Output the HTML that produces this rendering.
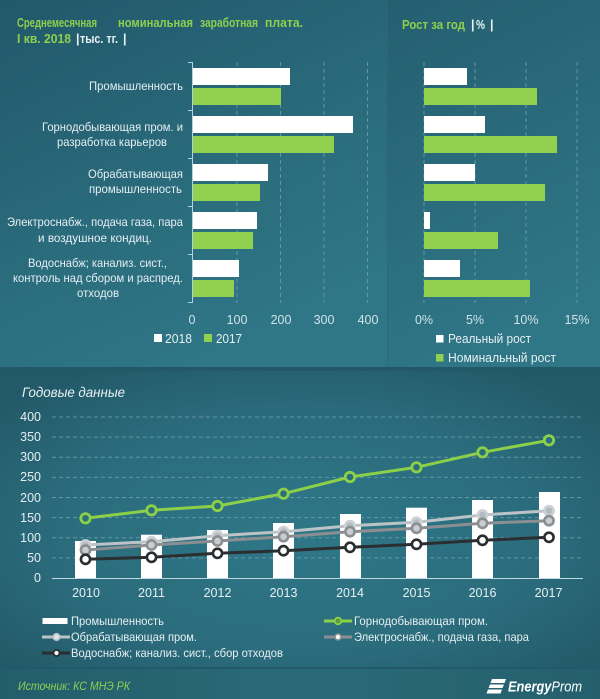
<!DOCTYPE html>
<html>
<head>
<meta charset="utf-8">
<style>
html,body{margin:0;padding:0;background:#1f5464;}
svg{display:block;}
text{font-family:"Liberation Sans","DejaVu Sans",sans-serif;}
</style>
</head>
<body>
<svg width="600" height="699" viewBox="0 0 600 699" xmlns="http://www.w3.org/2000/svg">
<defs>
<linearGradient id="gTL" x1="0" y1="0" x2="0.5" y2="1">
<stop offset="0" stop-color="#21586a"/>
<stop offset="0.6" stop-color="#2a6c7c"/>
<stop offset="1" stop-color="#2f7686"/>
</linearGradient>
<linearGradient id="gTR" x1="0" y1="0" x2="0.3" y2="1">
<stop offset="0" stop-color="#245f70"/>
<stop offset="1" stop-color="#2f7686"/>
</linearGradient>
<radialGradient id="gB" cx="0.5" cy="0.55" r="0.65">
<stop offset="0" stop-color="#2f7787"/>
<stop offset="0.6" stop-color="#2b6d7d"/>
<stop offset="1" stop-color="#235a69"/>
</radialGradient>
<linearGradient id="gF" x1="0" y1="0" x2="1" y2="0">
<stop offset="0" stop-color="#235d6b"/>
<stop offset="0.5" stop-color="#2a6a78"/>
<stop offset="1" stop-color="#255f6d"/>
</linearGradient>
</defs>

<!-- backgrounds -->
<rect x="0" y="0" width="600" height="699" fill="#1f5464"/>
<rect x="0" y="0" width="388" height="367" fill="url(#gTL)"/>
<rect x="388" y="0" width="212" height="367" fill="url(#gTR)"/>
<rect x="387" y="0" width="1" height="367" fill="#2a6575" opacity="0.7"/>
<rect x="0" y="367" width="600" height="4" fill="#225868"/>
<rect x="0" y="371" width="600" height="297" fill="url(#gB)"/>
<rect x="0" y="668" width="600" height="31" fill="url(#gF)"/>
<rect x="0" y="667" width="600" height="2" fill="#21586a"/>

<!-- ===== Top-left title ===== -->
<g font-size="12.5" font-weight="bold" fill="#8ecf50">
<text x="17" y="27" textLength="80" lengthAdjust="spacingAndGlyphs">Среднемесячная</text>
<text x="118" y="27" textLength="75" lengthAdjust="spacingAndGlyphs">номинальная</text>
<text x="200" y="27" textLength="58" lengthAdjust="spacingAndGlyphs">заработная</text>
<text x="265" y="27" textLength="38" lengthAdjust="spacingAndGlyphs">плата.</text>
<text x="17" y="43" textLength="54" lengthAdjust="spacingAndGlyphs">I кв. 2018</text>
</g>
<g font-size="12.5" font-weight="bold" fill="#e8f2f5">
<text x="76" y="43">|</text>
<text x="80" y="43" textLength="38" lengthAdjust="spacingAndGlyphs">тыс. тг.</text>
<text x="123" y="43">|</text>
</g>

<!-- ===== Top-right title ===== -->
<text x="402" y="29" font-size="12.5" font-weight="bold" fill="#8ecf50" textLength="63" lengthAdjust="spacingAndGlyphs">Рост за год</text>
<g font-size="12.5" font-weight="bold" fill="#e8f2f5">
<text x="471" y="29">|</text>
<text x="476" y="29" textLength="9" lengthAdjust="spacingAndGlyphs">%</text>
<text x="490" y="29">|</text>
</g>

<!-- ===== Left bar chart ===== -->
<g stroke="#6fa0b0" stroke-width="1" stroke-dasharray="4,3" opacity="0.8">
<line x1="237" y1="62" x2="237" y2="303"/>
<line x1="280.5" y1="62" x2="280.5" y2="303"/>
<line x1="324" y1="62" x2="324" y2="303"/>
<line x1="367.5" y1="62" x2="367.5" y2="303"/>
</g>
<g fill="#ffffff">
<rect x="192" y="68" width="98" height="17"/>
<rect x="192" y="116" width="161" height="17"/>
<rect x="192" y="164" width="76" height="17"/>
<rect x="192" y="212" width="65" height="17"/>
<rect x="192" y="260" width="47" height="17"/>
</g>
<g fill="#92d050">
<rect x="192" y="88" width="89" height="17"/>
<rect x="192" y="136" width="142" height="17"/>
<rect x="192" y="184" width="68" height="17"/>
<rect x="192" y="232" width="61" height="17"/>
<rect x="192" y="280" width="42" height="17"/>
</g>
<g stroke="#b4d2dc" stroke-width="1">
<line x1="192.5" y1="62" x2="192.5" y2="303"/>
<line x1="188" y1="62.5" x2="192" y2="62.5"/>
<line x1="188" y1="110.5" x2="192" y2="110.5"/>
<line x1="188" y1="158.5" x2="192" y2="158.5"/>
<line x1="188" y1="206.5" x2="192" y2="206.5"/>
<line x1="188" y1="254.5" x2="192" y2="254.5"/>
<line x1="188" y1="302.5" x2="192" y2="302.5"/>
</g>
<g font-size="12" fill="#e6eff2" text-anchor="middle">
<text x="136" y="90" textLength="94" lengthAdjust="spacingAndGlyphs">Промышленность</text>
<text x="112.5" y="131" textLength="141" lengthAdjust="spacingAndGlyphs">Горнодобывающая пром. и</text>
<text x="112" y="146" textLength="110" lengthAdjust="spacingAndGlyphs">разработка карьеров</text>
<text x="135.5" y="178" textLength="95" lengthAdjust="spacingAndGlyphs">Обрабатывающая</text>
<text x="135.5" y="193" textLength="93" lengthAdjust="spacingAndGlyphs">промышленность</text>
<text x="95" y="226" textLength="176" lengthAdjust="spacingAndGlyphs">Электроснабж., подача газа, пара</text>
<text x="95" y="242" textLength="114" lengthAdjust="spacingAndGlyphs">и воздушное  кондиц.</text>
<text x="97.5" y="267" textLength="139" lengthAdjust="spacingAndGlyphs">Водоснабж; канализ. сист.,</text>
<text x="98" y="282" textLength="170" lengthAdjust="spacingAndGlyphs">контроль над сбором и распред.</text>
<text x="98" y="297" textLength="42" lengthAdjust="spacingAndGlyphs">отходов</text>
</g>
<g font-size="12.5" fill="#cfe2e8" text-anchor="middle">
<text x="192" y="324">0</text>
<text x="237" y="324">100</text>
<text x="281" y="324">200</text>
<text x="324" y="324">300</text>
<text x="368" y="324">400</text>
</g>
<rect x="154" y="334" width="8" height="8" fill="#ffffff"/>
<text x="165" y="343" font-size="13" fill="#e6eff2" textLength="27" lengthAdjust="spacingAndGlyphs">2018</text>
<rect x="204" y="334" width="8" height="8" fill="#92d050"/>
<text x="216" y="343" font-size="13" fill="#e6eff2" textLength="26" lengthAdjust="spacingAndGlyphs">2017</text>

<!-- ===== Right bar chart ===== -->
<g stroke="#6fa0b0" stroke-width="1" stroke-dasharray="4,3" opacity="0.8">
<line x1="424" y1="62" x2="424" y2="303"/>
<line x1="475" y1="62" x2="475" y2="303"/>
<line x1="526" y1="62" x2="526" y2="303"/>
<line x1="577" y1="62" x2="577" y2="303"/>
</g>
<g fill="#ffffff">
<rect x="424" y="68" width="43" height="17"/>
<rect x="424" y="116" width="61" height="17"/>
<rect x="424" y="164" width="51" height="17"/>
<rect x="424" y="212" width="6" height="17"/>
<rect x="424" y="260" width="36" height="17"/>
</g>
<g fill="#92d050">
<rect x="424" y="88" width="113" height="17"/>
<rect x="424" y="136" width="133" height="17"/>
<rect x="424" y="184" width="121" height="17"/>
<rect x="424" y="232" width="74" height="17"/>
<rect x="424" y="280" width="106" height="17"/>
</g>
<g font-size="12.5" fill="#cfe2e8" text-anchor="middle">
<text x="424" y="324">0%</text>
<text x="475" y="324">5%</text>
<text x="526" y="324">10%</text>
<text x="577" y="324">15%</text>
</g>
<rect x="436" y="335" width="7.5" height="7.5" fill="#ffffff"/>
<text x="448" y="343" font-size="13" fill="#e6eff2" textLength="83" lengthAdjust="spacingAndGlyphs">Реальный рост</text>
<rect x="436" y="354" width="7.5" height="7.5" fill="#92d050"/>
<text x="448" y="362" font-size="13" fill="#e6eff2" textLength="108" lengthAdjust="spacingAndGlyphs">Номинальный рост</text>

<!-- ===== Bottom chart ===== -->
<text x="22" y="397" font-size="14" font-style="italic" fill="#e8f0f2" textLength="103" lengthAdjust="spacingAndGlyphs">Годовые данные</text>
<g stroke="#6fa0b0" stroke-width="1" stroke-dasharray="4,3" opacity="0.8">
<line x1="52" y1="417" x2="583" y2="417"/>
<line x1="52" y1="437.1" x2="583" y2="437.1"/>
<line x1="52" y1="457.3" x2="583" y2="457.3"/>
<line x1="52" y1="477.4" x2="583" y2="477.4"/>
<line x1="52" y1="497.5" x2="583" y2="497.5"/>
<line x1="52" y1="517.6" x2="583" y2="517.6"/>
<line x1="52" y1="537.8" x2="583" y2="537.8"/>
<line x1="52" y1="557.9" x2="583" y2="557.9"/>
</g>
<g font-size="12.5" fill="#e6eff2" text-anchor="end">
<text x="41" y="421">400</text>
<text x="41" y="441">350</text>
<text x="41" y="461">300</text>
<text x="41" y="481">250</text>
<text x="41" y="502">200</text>
<text x="41" y="522">150</text>
<text x="41" y="542">100</text>
<text x="41" y="562">50</text>
<text x="41" y="582">0</text>
</g>
<!-- bars -->
<g fill="#ffffff">
<rect x="75" y="541" width="21" height="37"/>
<rect x="141" y="534.7" width="21" height="43.3"/>
<rect x="207" y="530" width="21" height="48"/>
<rect x="273" y="523" width="21" height="55"/>
<rect x="340" y="514" width="21" height="64"/>
<rect x="406" y="507.7" width="21" height="70.3"/>
<rect x="472" y="500" width="21" height="78"/>
<rect x="539" y="492" width="21" height="86"/>
</g>
<line x1="52" y1="578.5" x2="583" y2="578.5" stroke="#c0d8e0" stroke-width="1"/>

<!-- light grey line -->
<g>
<polyline fill="none" stroke="#bcc3c7" stroke-width="3" points="85.5,545 151.5,541.7 217.5,535.7 283.5,531.7 350,525.7 416.5,522.3 482.5,515 549,510.7"/>
<g fill="#b3bcc0" stroke="#cdd1d4" stroke-width="2.6">
<circle cx="85.5" cy="545" r="4.6"/><circle cx="151.5" cy="541.7" r="4.6"/><circle cx="217.5" cy="535.7" r="4.6"/><circle cx="283.5" cy="531.7" r="4.6"/><circle cx="350" cy="525.7" r="4.6"/><circle cx="416.5" cy="522.3" r="4.6"/><circle cx="482.5" cy="515" r="4.6"/><circle cx="549" cy="510.7" r="4.6"/>
</g>
</g>
<!-- mid grey line -->
<g>
<polyline fill="none" stroke="#8b8f91" stroke-width="3" points="85.5,550 151.5,545 217.5,541 283.5,536.7 350,531.7 416.5,528.3 482.5,523.3 549,520.7"/>
<g fill="#c9cdcf" stroke="#8b8f91" stroke-width="2.6">
<circle cx="85.5" cy="550" r="4.6"/><circle cx="151.5" cy="545" r="4.6"/><circle cx="217.5" cy="541" r="4.6"/><circle cx="283.5" cy="536.7" r="4.6"/><circle cx="350" cy="531.7" r="4.6"/><circle cx="416.5" cy="528.3" r="4.6"/><circle cx="482.5" cy="523.3" r="4.6"/><circle cx="549" cy="520.7" r="4.6"/>
</g>
</g>
<!-- dark line -->
<g>
<polyline fill="none" stroke="#2b2e30" stroke-width="3" points="85.5,559.3 151.5,557.3 217.5,553.3 283.5,550.7 350,547.3 416.5,544.3 482.5,540.3 549,537.3"/>
<g fill="#ffffff" stroke="#2b2e30" stroke-width="2.6">
<circle cx="85.5" cy="559.3" r="4.6"/><circle cx="151.5" cy="557.3" r="4.6"/><circle cx="217.5" cy="553.3" r="4.6"/><circle cx="283.5" cy="550.7" r="4.6"/><circle cx="350" cy="547.3" r="4.6"/><circle cx="416.5" cy="544.3" r="4.6"/><circle cx="482.5" cy="540.3" r="4.6"/><circle cx="549" cy="537.3" r="4.6"/>
</g>
</g>
<!-- green line -->
<g>
<polyline fill="none" stroke="#8cd04a" stroke-width="3" points="85.5,518.3 151.5,510.3 217.5,506 283.5,493.7 350,477 416.5,467.3 482.5,452.3 549,440.3"/>
<g fill="#2b6e7e" stroke="#8cd04a" stroke-width="2.8">
<circle cx="85.5" cy="518.3" r="4.7"/><circle cx="151.5" cy="510.3" r="4.7"/><circle cx="217.5" cy="506" r="4.7"/><circle cx="283.5" cy="493.7" r="4.7"/><circle cx="350" cy="477" r="4.7"/><circle cx="416.5" cy="467.3" r="4.7"/><circle cx="482.5" cy="452.3" r="4.7"/><circle cx="549" cy="440.3" r="4.7"/>
</g>
</g>
<g font-size="12.5" fill="#e6eff2" text-anchor="middle">
<text x="86" y="597">2010</text>
<text x="151.5" y="597">2011</text>
<text x="217.5" y="597">2012</text>
<text x="283.5" y="597">2013</text>
<text x="350" y="597">2014</text>
<text x="416.5" y="597">2015</text>
<text x="482.5" y="597">2016</text>
<text x="548.5" y="597">2017</text>
</g>

<!-- bottom legend -->
<rect x="42.5" y="618" width="25" height="6" fill="#ffffff"/>
<text x="71" y="625" font-size="12" fill="#e6eff2" textLength="93" lengthAdjust="spacingAndGlyphs">Промышленность</text>
<line x1="42" y1="637" x2="70" y2="637" stroke="#bcc3c7" stroke-width="3"/>
<circle cx="56.5" cy="637" r="3.3" fill="#e0e3ea" stroke="#bcc3c7" stroke-width="1.6"/>
<text x="71" y="641" font-size="12" fill="#e6eff2" textLength="126" lengthAdjust="spacingAndGlyphs">Обрабатывающая пром.</text>
<line x1="42" y1="653" x2="70" y2="653" stroke="#2b2e30" stroke-width="3"/>
<circle cx="56.5" cy="653" r="3" fill="#ffffff" stroke="#2b2e30" stroke-width="1.8"/>
<text x="71" y="657" font-size="12" fill="#e6eff2" textLength="212" lengthAdjust="spacingAndGlyphs">Водоснабж; канализ. сист., сбор отходов</text>

<line x1="324" y1="621" x2="352" y2="621" stroke="#8cd04a" stroke-width="3"/>
<circle cx="338" cy="621" r="3.3" fill="#5f9a3a" stroke="#8cd04a" stroke-width="1.8"/>
<text x="354" y="625" font-size="12" fill="#e6eff2" textLength="134" lengthAdjust="spacingAndGlyphs">Горнодобывающая пром.</text>
<line x1="324" y1="637" x2="352" y2="637" stroke="#8b8f91" stroke-width="3"/>
<circle cx="338" cy="637" r="3" fill="#ffffff" stroke="#8b8f91" stroke-width="1.6"/>
<text x="354" y="641" font-size="12" fill="#e6eff2" textLength="175" lengthAdjust="spacingAndGlyphs">Электроснабж., подача газа, пара</text>

<!-- footer -->
<text x="18" y="690" font-size="12" font-style="italic" fill="#8ecf50" textLength="112" lengthAdjust="spacingAndGlyphs">Источник: КС МНЭ РК</text>
<g fill="#ffffff">
<polygon points="492,679 506,679 504.5,683 490.5,683"/>
<polygon points="490,684.5 504,684.5 502.5,688 488.5,688"/>
<polygon points="488,689.5 502,689.5 500.5,693.5 486.5,693.5"/>
</g>
<text x="508" y="691.5" font-size="15" font-style="italic" fill="#ffffff" textLength="74" lengthAdjust="spacingAndGlyphs"><tspan font-weight="bold">Energy</tspan>Prom</text>
</svg>
</body>
</html>
